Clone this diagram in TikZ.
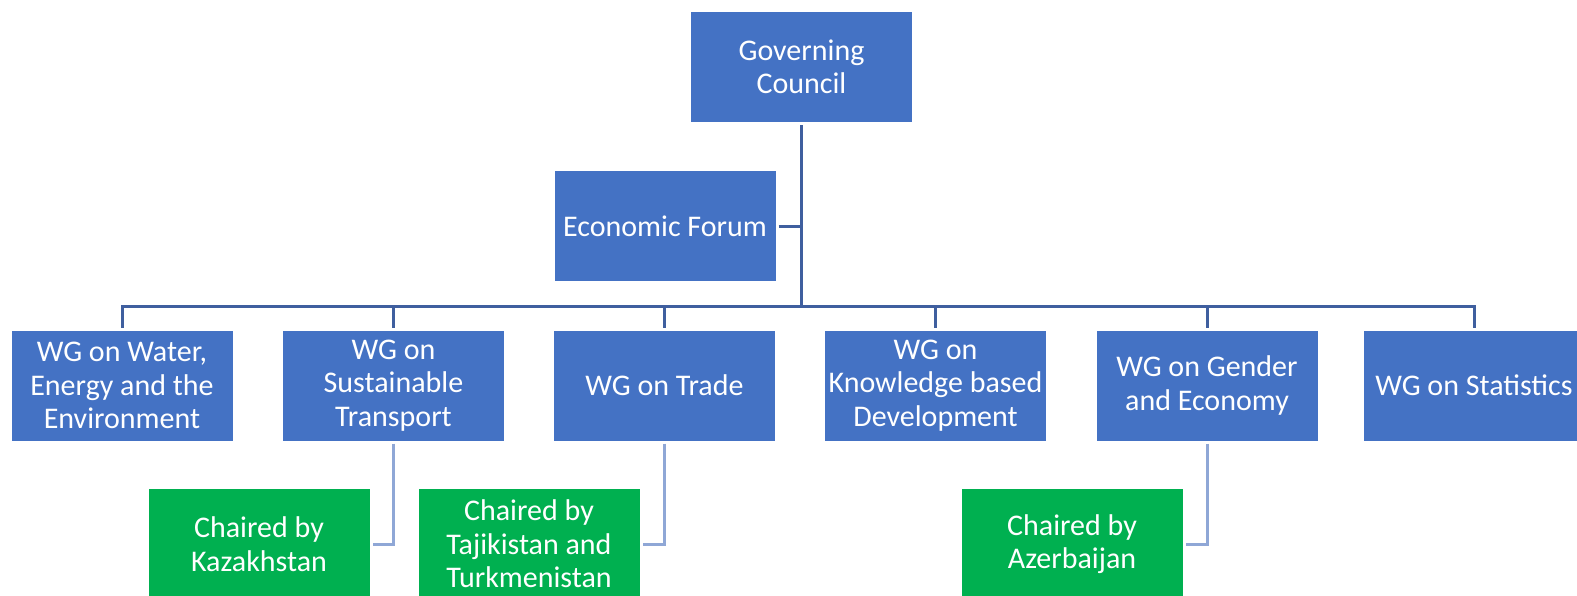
\documentclass[tikz,border=0pt]{standalone}
\usepackage{fontspec}
\setmainfont{Carlito}
\definecolor{boxblue}{HTML}{4472C4}
\definecolor{boxgreen}{HTML}{00B050}
\definecolor{linkdark}{HTML}{3F5F9F}
\definecolor{linklight}{HTML}{8FA7D6}
\tikzset{
    orgbox/.style={fill=boxblue, text=white, minimum width=221pt, minimum height=110pt,
        align=center, inner sep=2pt, outer sep=3pt, font=\fontsize{30}{33.5}\selectfont},
    chairbox/.style={orgbox, fill=boxgreen},
    trunk/.style={draw=linkdark, line width=3pt},
    chairlink/.style={draw=linklight, line width=3pt},
}
\begin{document}
\begin{tikzpicture}[x=1pt,y=-1pt]
        \clip (0,0) rectangle (1577,595);

        \node[orgbox] (gc) at (801.5,67) {Governing\\Council};
        \node[orgbox] (ef) at (665,226) {Economic Forum};

        \node[orgbox] (wg1) at (122,385.5) {WG on Water,\\Energy and the\\Environment};
        \node[orgbox] (wg2) at (393.5,385.5) {WG on\\Sustainable\\Transport};
        \node[orgbox] (wg3) at (664.5,385.5) {WG on Trade};
        \node[orgbox] (wg4) at (935.5,385.5) {WG on\\Knowledge based\\Development};
        \node[orgbox] (wg5) at (1207,385.5) {WG on Gender\\and Economy};
        \node[orgbox] (wg6) at (1474,385.5) {WG on Statistics};

        \node[chairbox] (ch1) at (259,544) {Chaired by\\Kazakhstan};
        \node[chairbox] (ch2) at (529,544) {Chaired by\\Tajikistan and\\Turkmenistan};
        \node[chairbox] (ch3) at (1072,544) {Chaired by\\Azerbaijan};

        % tree
        \coordinate (hub) at (801.5,306);
        \draw[trunk] (gc) -- (hub);
        \draw[trunk] (ef) -- (ef -| hub);
        \foreach \n in {wg1,wg2,wg3,wg4,wg5,wg6}
            \draw[trunk] (hub) -| (\n);

        % chairs
        \draw[chairlink] (wg2) |- (ch1);
        \draw[chairlink] (wg3) |- (ch2);
        \draw[chairlink] (wg5) |- (ch3);
\end{tikzpicture}
\end{document}
